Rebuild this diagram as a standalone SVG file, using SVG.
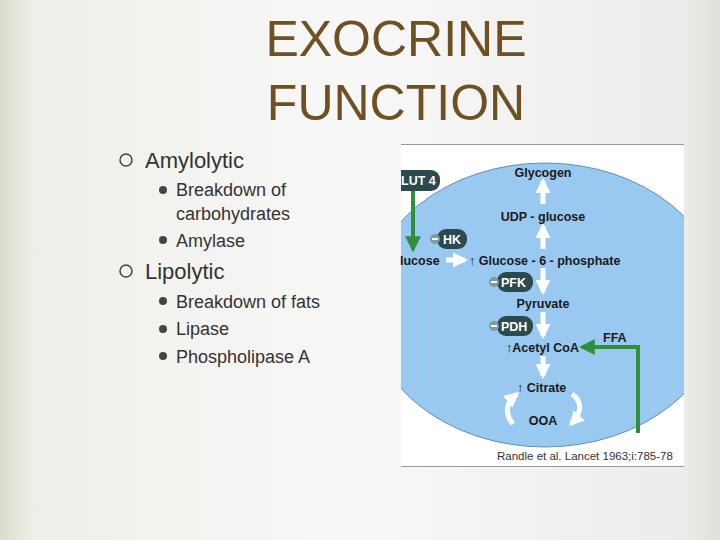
<svg xmlns="http://www.w3.org/2000/svg" width="720" height="540" viewBox="0 0 720 540">
<defs>
<linearGradient id="bg" x1="0" y1="0" x2="1" y2="0">
<stop offset="0" stop-color="#dcdccc"/><stop offset="0.05" stop-color="#efefe9"/><stop offset="0.5" stop-color="#f8f8f8"/><stop offset="0.95" stop-color="#ececea"/><stop offset="1" stop-color="#e0e0d8"/>
</linearGradient>
<clipPath id="box"><rect x="401" y="145" width="283" height="321"/></clipPath>
<marker id="ga" viewBox="0 0 10 10" refX="8" refY="5" markerWidth="4" markerHeight="4" orient="auto"><path d="M0,0L10,5L0,10z" fill="#2f8f3a"/></marker>
<marker id="wa" viewBox="0 0 10 10" refX="8" refY="5" markerWidth="3" markerHeight="3" orient="auto"><path d="M0,0L10,5L0,10z" fill="#fff"/></marker>
</defs>
<style>
.t{font-family:"Liberation Sans",Arial,sans-serif}
.h{fill:#6e5022;font-size:50px}
.b1{fill:#333;font-size:22px}
.b2{fill:#333;font-size:18px}
.d{font-family:"Liberation Sans",Arial,sans-serif;font-weight:bold;font-size:12.5px;fill:#1a1a1a}
.p{fill:#2c4a4e}
.pt{font-family:"Liberation Sans",Arial,sans-serif;font-weight:bold;font-size:12.5px;fill:#fff}
.w{stroke:#fff;stroke-width:5;fill:none;marker-end:url(#wa)}
.g{stroke:#2f8f3a;stroke-width:4;fill:none;marker-end:url(#ga)}
</style>
<rect width="720" height="540" fill="url(#bg)"/>
<g id="title" class="t h" text-anchor="middle"><text x="396" y="56">EXOCRINE</text><text x="396" y="120">FUNCTION</text></g>
<g id="bullets" class="t">
<circle cx="126" cy="160" r="6" fill="none" stroke="#444" stroke-width="1.5"/>
<text class="b1" x="145" y="168">Amylolytic</text>
<circle cx="163" cy="190" r="4" fill="#444"/><text class="b2" x="176" y="196">Breakdown of</text>
<text class="b2" x="176" y="220">carbohydrates</text>
<circle cx="163" cy="240" r="4" fill="#444"/><text class="b2" x="176" y="247">Amylase</text>
<circle cx="126" cy="271" r="6" fill="none" stroke="#444" stroke-width="1.5"/>
<text class="b1" x="145" y="279">Lipolytic</text>
<circle cx="163" cy="301" r="4" fill="#444"/><text class="b2" x="176" y="308">Breakdown of fats</text>
<circle cx="163" cy="329" r="4" fill="#444"/><text class="b2" x="176" y="335">Lipase</text>
<circle cx="163" cy="356" r="4" fill="#444"/><text class="b2" x="176" y="363">Phospholipase A</text>
</g>
<g id="figure">
<rect x="401" y="144" width="283" height="323" fill="#fff"/>
<line x1="401" y1="144.5" x2="684" y2="144.5" stroke="#999"/>
<line x1="401" y1="466.5" x2="684" y2="466.5" stroke="#999"/>
<g clip-path="url(#box)"><ellipse cx="545" cy="305" rx="178" ry="142" fill="#99c9f1" stroke="#5f8fb8" stroke-width="1"/></g>
</g>
<g id="connectors">
<path class="w" d="M543,204V181"/><path class="w" d="M543,249V226"/>
<path class="w" d="M446,260H465"/>
<path class="w" d="M543,268V292"/><path class="w" d="M543,312V336"/><path class="w" d="M543,356V376"/>
<path class="w" d="M513,424Q500,408 517,394"/><path class="w" d="M572,394Q588,406 571,424"/>
<path class="g" d="M413,190V249"/>
<path class="g" d="M638,433V347H582"/>
</g>
<g id="nodes">
<text class="d" x="543" y="177" text-anchor="middle">Glycogen</text>
<text class="d" x="543" y="221" text-anchor="middle">UDP - glucose</text>
<text class="d" x="400" y="265">lucose</text>
<text class="d" x="469" y="265">↑ Glucose - 6 - phosphate</text>
<text class="d" x="543" y="308" text-anchor="middle">Pyruvate</text>
<text class="d" x="506" y="352">↑Acetyl CoA</text>
<text class="d" x="517" y="392">↑ Citrate</text>
<text class="d" x="543" y="425" text-anchor="middle">OOA</text>
<text class="d" x="603" y="342">FFA</text>
<text x="497" y="460" font-family="Liberation Sans,Arial,sans-serif" font-size="11.5" fill="#333">Randle et al. Lancet 1963;i:785-78</text>
<g clip-path="url(#box)"><rect class="p" x="390" y="170" width="50" height="21" rx="9"/><text class="pt" x="401" y="185">LUT 4</text></g>
<g id="hk"><rect class="p" x="437" y="229" width="30" height="20" rx="9"/><circle cx="435" cy="239" r="5" fill="#7f9aa0"/><rect x="432" y="238" width="6" height="2" fill="#fff"/><text class="pt" x="443" y="244">HK</text></g>
<g id="pfk"><rect class="p" x="497" y="272" width="36" height="20" rx="9"/><circle cx="494" cy="282" r="5" fill="#7f9aa0"/><rect x="491" y="281" width="6" height="2" fill="#fff"/><text class="pt" x="501" y="287">PFK</text></g>
<g id="pdh"><rect class="p" x="497" y="316" width="36" height="20" rx="9"/><circle cx="494" cy="326" r="5" fill="#7f9aa0"/><rect x="491" y="325" width="6" height="2" fill="#fff"/><text class="pt" x="501" y="331">PDH</text></g>
</g>
</svg>
